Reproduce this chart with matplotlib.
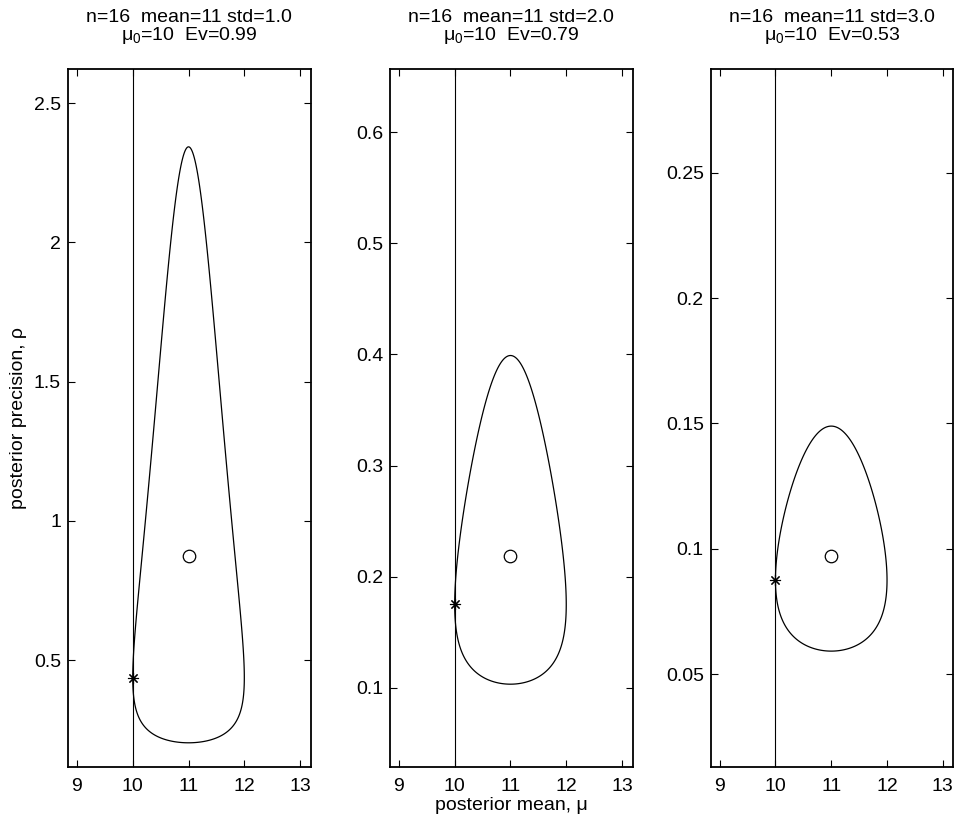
import numpy as np
import matplotlib
matplotlib.use("Agg")
import matplotlib.pyplot as plt
from matplotlib.ticker import FuncFormatter

plt.rcParams["font.family"] = ["Liberation Sans", "DejaVu Sans"]
plt.rcParams["mathtext.fontset"] = "custom"
plt.rcParams["mathtext.rm"] = "Liberation Sans"
plt.rcParams["mathtext.default"] = "regular"

# sample summaries for the three panels
n_obs = [16, 16, 16]
sample_mean = [11, 11, 11]
sample_std = [1.0, 2.0, 3.0]
mu0 = [10, 10, 10]
evidence = [0.99, 0.79, 0.53]

# axis ranges and ticks
x_limits = (8.84, 13.19)
x_ticks = [9, 10, 11, 12, 13]
y_limits = [(0.116, 2.623), (0.0286, 0.657), (0.0129, 0.2914)]
y_ticks = [
    [0.5, 1, 1.5, 2, 2.5],
    [0.1, 0.2, 0.3, 0.4, 0.5, 0.6],
    [0.05, 0.1, 0.15, 0.2, 0.25],
]

FS = 14


def log_posterior(mu, rho, n, xbar, s):
    # normal-gamma posterior for (mean, precision), flat prior
    ss = n * s ** 2
    return (n / 2 - 1) * np.log(rho) - rho / 2 * (ss + n * (mu - xbar) ** 2)


fig = plt.figure(figsize=(9.61, 8.22), dpi=100)
lefts = [0.0708, 0.4058, 0.7396]
width = 0.2525
bottom, height = 0.0669, 0.8491

for i in range(3):
    ax = fig.add_axes([lefts[i], bottom, width, height])
    n, xbar, s, m0 = n_obs[i], sample_mean[i], sample_std[i], mu0[i]

    rho_mode = (n / 2 - 1) / (n * s ** 2 / 2)
    rho_star = (n / 2 - 1) / ((n * s ** 2 + n * (m0 - xbar) ** 2) / 2)

    lo, hi = y_limits[i]
    mu_grid = np.linspace(8.0, 14.0, 1500)
    rho_grid = np.linspace(lo * 0.5, hi * 1.05, 1800)
    MU, RHO = np.meshgrid(mu_grid, rho_grid)
    Z = log_posterior(MU, RHO, n, xbar, s)
    level = log_posterior(m0, rho_star, n, xbar, s)
    ax.contour(MU, RHO, Z, levels=[level], colors="k", linewidths=0.9,
               linestyles="solid")

    ax.axvline(m0, color="k", lw=0.8)
    ax.plot([m0], [rho_star], marker=(8, 2, 0), color="k", ms=8, mew=0.8,
            linestyle="none")
    ax.plot([xbar], [rho_mode], marker="o", mfc="white", mec="k", ms=9,
            mew=0.9, linestyle="none")

    ax.set_xlim(*x_limits)
    ax.set_ylim(lo, hi)
    ax.set_xticks(x_ticks)
    ax.set_yticks(y_ticks[i])
    ax.yaxis.set_major_formatter(FuncFormatter(lambda v, p: f"{v:g}"))
    ax.tick_params(direction="in", length=5, width=0.8, top=True, right=True,
                   labelsize=FS, pad=5)
    ax.tick_params(axis="x", pad=8)
    for sp in ax.spines.values():
        sp.set_linewidth(1.3)

    ax.set_title(f"n={n}  mean={xbar} std={s:.1f}\n"
                 f"μ$_0$={m0}  Ev={evidence[i]:.2f}",
                 fontsize=FS, linespacing=0.95, pad=21)

    if i == 0:
        ax.set_ylabel("posterior precision, ρ", fontsize=FS, labelpad=5)
    if i == 1:
        ax.set_xlabel("posterior mean, μ", fontsize=FS, labelpad=1)

fig.savefig("out.png", dpi=100)
